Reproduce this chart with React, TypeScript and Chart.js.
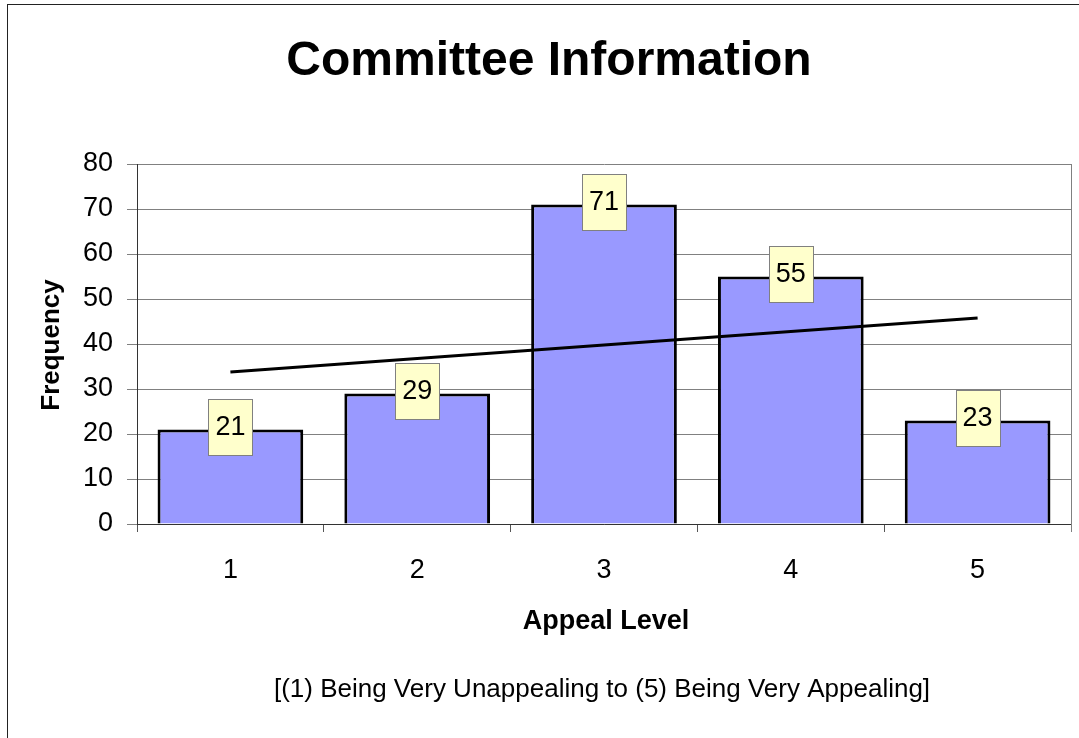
import React, { useEffect, useRef } from "react";
import { Chart, registerables } from "chart.js";

Chart.register(...registerables);

const categories = ["1", "2", "3", "4", "5"];
const frequencies = [21, 29, 71, 55, 23];
const trendValues = [33.8, 36.8, 39.8, 42.8, 45.8];
const yTicks = [0, 10, 20, 30, 40, 50, 60, 70, 80];

const titleText = "Committee Information";
const yTitle = "Frequency";
const xTitle = "Appeal Level";
const noteText = "[(1) Being Very Unappealing to (5) Being Very Appealing]";

const FONT = "'Liberation Sans', Arial, sans-serif";

const decorPlugin = {
  id: "decor",
  beforeDraw(chart: any) {
    const ctx = chart.ctx;
    ctx.save();
    ctx.fillStyle = "#fff";
    ctx.fillRect(0, 0, chart.width, chart.height);
    ctx.strokeStyle = "#222";
    ctx.lineWidth = 1;
    ctx.strokeRect(7.5, 4.5, chart.width + 20, chart.height + 20);
    ctx.restore();
  },
  afterDraw(chart: any) {
    const ctx = chart.ctx;
    const area = chart.chartArea;
    ctx.save();
    // plot right border
    ctx.strokeStyle = "#808080";
    ctx.lineWidth = 1;
    ctx.beginPath();
    ctx.moveTo(Math.round(area.right) + 0.5, area.top);
    ctx.lineTo(Math.round(area.right) + 0.5, area.bottom + 8);
    ctx.stroke();

    // data labels
    const meta = chart.getDatasetMeta(1);
    ctx.font = `27px ${FONT}`;
    ctx.textAlign = "center";
    ctx.textBaseline = "middle";
    meta.data.forEach((bar: any, i: number) => {
      const w = 44;
      const h = 56;
      const cx = bar.x;
      const cy = bar.y - 3;
      ctx.fillStyle = "#FFFFCC";
      ctx.fillRect(Math.round(cx - w / 2), Math.round(cy - h / 2), w, h);
      ctx.strokeStyle = "#808080";
      ctx.lineWidth = 1;
      ctx.strokeRect(Math.round(cx - w / 2) + 0.5, Math.round(cy - h / 2) + 0.5, w, h);
      ctx.fillStyle = "#000";
      ctx.fillText(String(frequencies[i]), cx, cy + 1);
    });

    // title
    ctx.fillStyle = "#000";
    ctx.font = `bold 48px ${FONT}`;
    ctx.fillText(titleText, 549, 62);

    // x title
    ctx.font = `bold 27px ${FONT}`;
    ctx.fillText(xTitle, 606, 622);

    // note
    ctx.font = `26px ${FONT}`;
    ctx.fillText(noteText, 602, 690);

    // y title
    ctx.save();
    ctx.translate(52, 345);
    ctx.rotate(-Math.PI / 2);
    ctx.font = `bold 26px ${FONT}`;
    ctx.fillText(yTitle, 0, 0);
    ctx.restore();

    ctx.restore();
  },
};

export default function App() {
  const ref = useRef<HTMLCanvasElement>(null);
  useEffect(() => {
    if (!ref.current) return;
    const chart = new Chart(ref.current, {
      type: "bar",
      data: {
        labels: categories,
        datasets: [
          {
            type: "line",
            data: trendValues,
            borderColor: "#000",
            borderWidth: 3,
            pointRadius: 0,
            fill: false,
            order: 0,
          } as any,
          {
            type: "bar",
            data: frequencies,
            backgroundColor: "#9999FF",
            borderColor: "#000",
            borderWidth: 3,
            barPercentage: 0.78,
            categoryPercentage: 1,
            order: 1,
          } as any,
        ],
      },
      options: {
        animation: false,
        responsive: false,
        maintainAspectRatio: false,
        layout: { padding: { left: 0, top: 164, right: 8, bottom: 0 } },
        plugins: {
          legend: { display: false },
          tooltip: { enabled: false },
          title: { display: false },
        },
        scales: {
          x: {
            type: "category",
            offset: true,
            grid: {
              display: true,
              offset: true,
              drawOnChartArea: false,
              drawTicks: true,
              tickLength: 8,
              color: "#555",
            },
            border: { display: true, color: "#333", width: 1 },
            ticks: {
              color: "#000",
              font: { family: FONT, size: 27 },
              padding: 22,
            },
            afterFit(scale: any) {
              scale.height = 214;
            },
          },
          y: {
            min: 0,
            max: 80,
            afterBuildTicks(scale: any) {
              scale.ticks = yTicks.map((v) => ({ value: v }));
            },
            grid: {
              color: "#808080",
              tickLength: 10,
              drawTicks: true,
            },
            border: { display: true, color: "#333", width: 1 },
            ticks: {
              color: "#000",
              font: { family: FONT, size: 27 },
              padding: 14,
            },
            afterFit(scale: any) {
              scale.width = 137;
            },
          },
        },
      },
      plugins: [decorPlugin],
    });
    return () => chart.destroy();
  }, []);
  return (
    <div style={{ position: "absolute", left: 0, top: 0, width: 1079, height: 738, overflow: "hidden" }}>
      <style>{"body{margin:0}"}</style>
      <canvas ref={ref} width={1079} height={738} style={{ display: "block" }} />
    </div>
  );
}
